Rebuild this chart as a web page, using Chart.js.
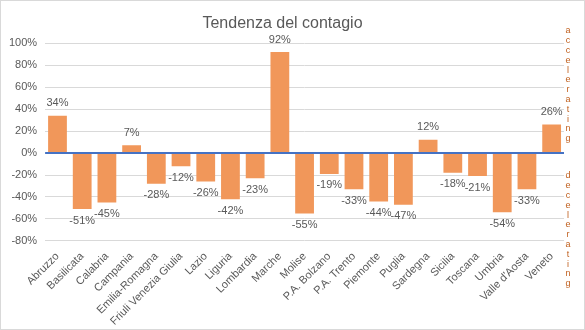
<!DOCTYPE html>
<html>
<head>
<meta charset="utf-8">
<script src="https://cdn.jsdelivr.net/npm/chart.js@4"></script>
<style>
  html, body { margin: 0; padding: 0; background: #fff; }
  #wrap { width: 583px; height: 328px; border: 1px solid #d9d9d9; }
</style>
</head>
<body>
<div id="wrap"><canvas id="myChart" width="583" height="328"></canvas></div>
<script>
const regioni = ['Abruzzo', 'Basilicata', 'Calabria', 'Campania', 'Emilia-Romagna', 'Friuli Venezia Giulia',
    'Lazio', 'Liguria', 'Lombardia', 'Marche', 'Molise', 'P.A. Bolzano', 'P.A. Trento', 'Piemonte',
    'Puglia', 'Sardegna', 'Sicilia', 'Toscana', 'Umbria', "Valle d'Aosta", 'Veneto'];
const tendenza = [34, -51, -45, 7, -28, -12, -26, -42, -23, 92, -55, -19, -33, -44, -47, 12, -18, -21, -54, -33, 26];
const yTicks = [100, 80, 60, 40, 20, 0, -20, -40, -60, -80];
const testoSu = 'accelerating';
const testoGiu = 'decelerating';

const FONT = "'Liberation Sans', Arial, sans-serif";
const grigio = '#595959';

// etichette sopra/sotto le barre + linea dello zero + scritte verticali
const extra = {
    id: 'extra',
    afterDatasetsDraw(chart) {
        const ctx = chart.ctx;
        const y = chart.scales.y;
        const area = chart.chartArea;
        const y0 = y.getPixelForValue(0);

        ctx.save();
        ctx.strokeStyle = '#4472C4';
        ctx.lineWidth = 2;
        ctx.beginPath();
        ctx.moveTo(area.left, y0);
        ctx.lineTo(area.right, y0);
        ctx.stroke();

        ctx.font = '11px ' + FONT;
        ctx.fillStyle = grigio;
        ctx.textAlign = 'center';
        const meta = chart.getDatasetMeta(0);
        meta.data.forEach((bar, i) => {
            const v = tendenza[i];
            if (v >= 0) {
                ctx.textBaseline = 'bottom';
                ctx.fillText(v + '%', bar.x, bar.y - 7);
            } else {
                ctx.textBaseline = 'top';
                ctx.fillText(v + '%', bar.x, bar.y + 6);
            }
        });

        ctx.font = '9px ' + FONT;
        ctx.fillStyle = '#C0601F';
        ctx.textBaseline = 'middle';
        const xs = area.right + 4;
        for (let i = 0; i < testoSu.length; i++) {
            ctx.fillText(testoSu[i], xs, 30 + i * 9.8);
        }
        for (let i = 0; i < testoGiu.length; i++) {
            ctx.fillText(testoGiu[i], xs, 175 + i * 9.8);
        }
        ctx.restore();
    }
};

const ctx = document.getElementById('myChart').getContext('2d');
const myChart = new Chart(ctx, {
    type: 'bar',
    data: {
        labels: regioni,
        datasets: [{
            data: tendenza,
            backgroundColor: '#F1975A',
            barPercentage: 0.76,
            categoryPercentage: 1
        }]
    },
    options: {
        responsive: false,
        animation: false,
        layout: { padding: { left: 0, right: 20, top: 0, bottom: 0 } },
        plugins: {
            legend: { display: false },
            tooltip: { enabled: false },
            title: {
                display: true,
                text: 'Tendenza del contagio',
                color: grigio,
                font: { family: FONT, size: 16, weight: 'normal' },
                padding: { top: 13, bottom: 10 }
            }
        },
        scales: {
            x: {
                grid: { display: false },
                border: { display: false },
                ticks: {
                    color: grigio,
                    font: { family: FONT, size: 11 },
                    autoSkip: false,
                    minRotation: 45,
                    maxRotation: 45,
                    padding: 1
                }
            },
            y: {
                min: -80,
                max: 100,
                afterBuildTicks: scale => { scale.ticks = yTicks.map(v => ({ value: v })); },
                grid: { color: '#d9d9d9', drawTicks: false },
                border: { display: false },
                ticks: {
                    color: grigio,
                    font: { family: FONT, size: 11 },
                    padding: 8,
                    callback: v => v + '%'
                }
            }
        }
    },
    plugins: [extra]
});
</script>
</body>
</html>
